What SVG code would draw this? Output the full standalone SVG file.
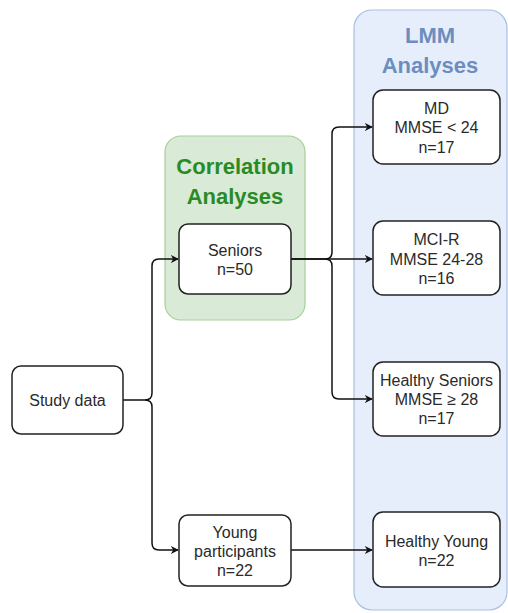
<svg xmlns="http://www.w3.org/2000/svg" width="508" height="613" viewBox="0 0 508 613">
<style>
.box{fill:#fff;stroke:#222;stroke-width:1.5}
.t{font-family:"Liberation Sans",Arial,sans-serif;font-size:16px;fill:#2a2a2a;text-anchor:middle}
.title{font-family:"Liberation Sans",Arial,sans-serif;font-size:22px;font-weight:bold;text-anchor:middle}
.c{fill:none;stroke:#111;stroke-width:1.5}
</style>
<defs>
<marker id="arr" viewBox="0 0 10 10" refX="9" refY="5" markerWidth="8" markerHeight="8" markerUnits="userSpaceOnUse" orient="auto">
<path d="M0,0 L10,5 L0,10 L3,5 Z" fill="#111"/>
</marker>
</defs>
<rect width="508" height="613" fill="#fff"/>
<g id="lmm">
<rect x="354" y="10" width="153" height="600" rx="18" fill="#e6eefb" stroke="#a9bfe3" stroke-width="1.2"/>
<text class="title" fill="#6c8ebf"><tspan x="430" y="43">LMM</tspan><tspan x="430" y="73">Analyses</tspan></text>
</g>
<g id="correlation">
<rect x="165" y="136" width="140" height="184" rx="16" fill="#d9ebd6" stroke="#a7cf9c" stroke-width="1.2"/>
<text class="title" fill="#2a8a26"><tspan x="235" y="174">Correlation</tspan><tspan x="235" y="204">Analyses</tspan></text>
</g>
<g id="connectors">
<path class="c" d="M123,400 H145 Q152,400 152,393 V266 Q152,259 159,259 H178" marker-end="url(#arr)"/>
<path class="c" d="M145,400 Q152,400 152,407 V543 Q152,550 159,550 H178" marker-end="url(#arr)"/>
<path class="c" d="M291,259 H325 Q332,259 332,252 V134 Q332,127 339,127 H372" marker-end="url(#arr)"/>
<path class="c" d="M291,259 H372" marker-end="url(#arr)"/>
<path class="c" d="M325,259 Q332,259 332,266 V392 Q332,399 339,399 H372" marker-end="url(#arr)"/>
<path class="c" d="M291,550 H372" marker-end="url(#arr)"/>
</g>
<g id="study">
<rect class="box" x="12" y="366" width="111" height="68" rx="9"/>
<text class="t" x="67.5" y="406">Study data</text>
</g>
<g id="seniors">
<rect class="box" x="179" y="224" width="112" height="70" rx="9"/>
<text class="t"><tspan x="235" y="256">Seniors</tspan><tspan x="235" y="275">n=50</tspan></text>
</g>
<g id="young">
<rect class="box" x="179" y="515" width="112" height="71" rx="9"/>
<text class="t"><tspan x="235" y="538">Young</tspan><tspan x="235" y="557">participants</tspan><tspan x="235" y="576">n=22</tspan></text>
</g>
<g id="md">
<rect class="box" x="373" y="90" width="127" height="74" rx="10"/>
<text class="t"><tspan x="436.5" y="114">MD</tspan><tspan x="436.5" y="133">MMSE &lt; 24</tspan><tspan x="436.5" y="153">n=17</tspan></text>
</g>
<g id="mcir">
<rect class="box" x="373" y="221" width="127" height="74" rx="10"/>
<text class="t"><tspan x="436.5" y="245">MCI-R</tspan><tspan x="436.5" y="265">MMSE 24-28</tspan><tspan x="436.5" y="284">n=16</tspan></text>
</g>
<g id="healthyseniors">
<rect class="box" x="373" y="362" width="127" height="74" rx="10"/>
<text class="t"><tspan x="436.5" y="386">Healthy Seniors</tspan><tspan x="436.5" y="405">MMSE ≥ 28</tspan><tspan x="436.5" y="424">n=17</tspan></text>
</g>
<g id="healthyyoung">
<rect class="box" x="373" y="512" width="127" height="75" rx="10"/>
<text class="t"><tspan x="436.5" y="547">Healthy Young</tspan><tspan x="436.5" y="566">n=22</tspan></text>
</g>
</svg>
